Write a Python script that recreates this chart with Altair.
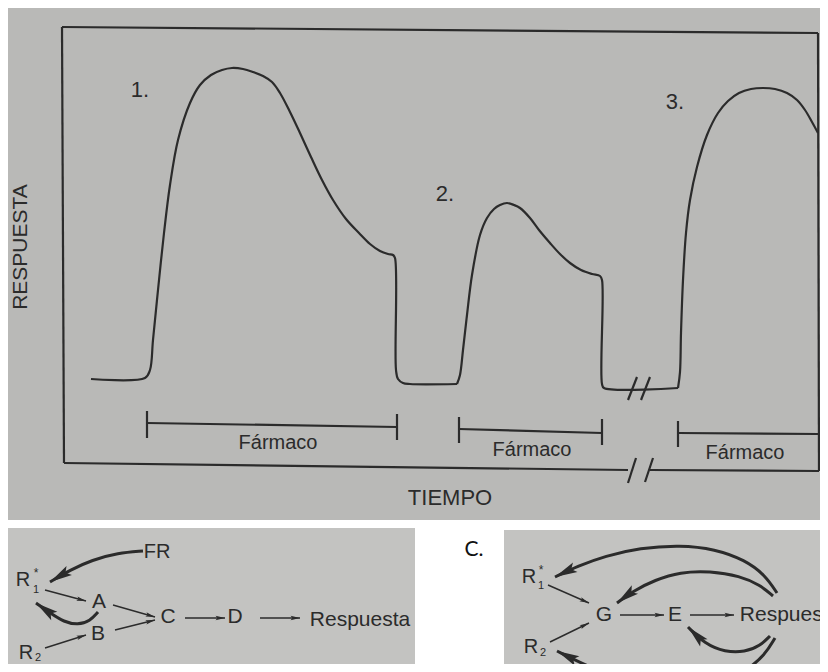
import math
import altair as alt
import pandas as pd

FONT = "Liberation Sans"
INK = "#2b2b2b"

# ---------------- data (page-space: x = time, y = response, y grows downward) -------------
curve1_t = [91, 145, 150, 153, 158, 164, 170, 178, 190, 200, 211, 222, 232, 243, 253, 263, 272, 280,
            290, 300, 311, 322, 333, 346, 359, 370, 380, 388, 393, 395, 396, 398, 403, 410, 457]
curve1_r = [379, 378, 370, 340, 290, 233, 185, 140, 103, 85, 75, 70, 68, 69, 72, 76, 82, 93,
            112, 133, 157, 180, 200, 219, 233, 244, 251, 254, 255, 258, 370, 379, 383, 384, 384]

curve2_t = [457, 460, 463, 467, 472, 480, 487, 494, 500, 507, 514, 520, 530, 539, 550, 560, 570,
            581, 592, 600, 602, 602, 604, 678]
curve2_r = [384, 375, 350, 315, 275, 235, 218, 209, 205, 203, 205, 208, 218, 230, 243, 254, 263,
            270, 274, 276, 280, 384, 388, 388]

curve3_t = [678, 680, 681, 683, 686, 690, 697, 707, 718, 728, 739, 751, 763, 775, 787, 797, 805, 812, 818]
curve3_r = [388, 372, 333, 280, 233, 200, 167, 135, 113, 101, 93, 89, 88, 89, 93, 100, 110, 122, 133]

# frame, break marks and drug bars: (x1, y1, x2, y2)
segments = [
    (62, 27, 818, 33), (62, 27, 64, 463), (818, 33, 819, 471),
    (64, 463, 628, 470), (650, 470, 819, 471),
    (628, 483, 636, 458), (645, 482, 653, 458),
    (628, 400, 637, 377), (641, 400, 650, 377),
    (147, 423, 397, 427), (147, 411, 147, 438), (397, 414, 397, 440),
    (459, 429, 602, 433), (459, 417, 459, 443), (602, 419, 602, 445),
    (678, 433, 818, 434), (678, 421, 678, 447),
]

# straight thin arrows (from -> tip)
thin_arrows = [
    (45, 590, 86, 601), (45, 648, 86, 635), (113, 605, 155, 617), (115, 630, 155, 620),
    (185, 618, 225, 618), (260, 618, 300, 618),
    (548, 585, 589, 603), (550, 642, 589, 623), (620, 615, 664, 615), (690, 615, 734, 615),
]

# curved thick arrows (last point is the tip)
curved_arrows = [
    [(143, 551), (118, 553), (92, 560), (70, 570), (50, 582)],
    [(98, 612), (90, 621), (78, 625), (64, 622), (50, 613), (36, 603)],
    [(777, 593), (765, 575), (745, 560), (715, 549), (680, 545), (640, 548), (605, 556), (578, 566), (555, 577)],
    [(773, 596), (760, 585), (740, 576), (710, 571), (680, 572), (655, 580), (633, 591), (617, 603)],
    [(770, 636), (760, 646), (745, 652), (725, 652), (705, 644), (688, 627)],
    [(775, 638), (765, 655), (745, 672), (715, 685), (670, 690), (620, 680), (585, 665), (557, 651)],
]

labels = ["1.", "2.", "3.", "RESPUESTA", "TIEMPO", "Fármaco", "Fármaco", "Fármaco",
          "FR", "R", "*", "1", "A", "B", "R", "2", "C", "D", "Respuesta",
          "R", "*", "1", "G", "E", "Respuesta", "R", "2"]
label_x = [140, 445, 675, 21, 450, 278, 532, 745,
           157, 23, 36, 36, 99, 98, 26, 38, 168, 235, 360,
           529, 541, 541, 604, 675, 790, 531, 543]
label_y = [90, 194, 102, 247, 498, 443, 450, 453,
           552, 580, 573, 590, 602, 634, 653, 658, 617, 617, 620,
           577, 570, 586, 615, 615, 615, 647, 653]
label_size = [22, 22, 22, 21, 22, 20, 20, 20,
              20, 20, 12, 11, 21, 21, 20, 11, 21, 21, 21,
              20, 12, 11, 21, 21, 21, 20, 11]
label_angle = [0, 0, 0, 270, 0, 0, 0, 0,
               0, 0, 0, 0, 0, 0, 0, 0, 0, 0, 0,
               0, 0, 0, 0, 0, 0, 0, 0]

panels = [(0, 0, 828, 520, "#b9b9b7"), (0, 528, 415, 672, "#c3c3c1"), (504, 530, 828, 672, "#c3c3c1")]

# ---------------- tables --------------------------------------------------------------
X = alt.X("x:Q", scale=alt.Scale(domain=[8, 820]), axis=None)
Y = alt.Y("y:Q", scale=alt.Scale(domain=[8, 664], reverse=True), axis=None)

bg_df = pd.DataFrame(panels, columns=["x", "y", "x2", "y2", "c"])
bg = alt.Chart(bg_df).mark_rect().encode(
    x=X, y=Y, x2="x2:Q", y2="y2:Q", color=alt.Color("c:N", scale=None))

curve_rows = []
for cid, (ts, rs) in enumerate([(curve1_t, curve1_r), (curve2_t, curve2_r), (curve3_t, curve3_r)]):
    for i, (t, r) in enumerate(zip(ts, rs)):
        curve_rows.append({"x": t, "y": r, "cid": cid, "i": i})
curves = alt.Chart(pd.DataFrame(curve_rows)).mark_line(
    interpolate="catmull-rom", color=INK, strokeWidth=2.2, clip=True
).encode(x=X, y=Y, detail="cid:N", order="i:Q")

seg_df = pd.DataFrame(segments, columns=["x", "y", "x2", "y2"])
segs = alt.Chart(seg_df).mark_rule(color=INK, strokeWidth=2.2).encode(x=X, y=Y, x2="x2:Q", y2="y2:Q")

thin_df = pd.DataFrame(thin_arrows, columns=["x", "y", "x2", "y2"])
thin = alt.Chart(thin_df).mark_rule(color=INK, strokeWidth=1.4).encode(x=X, y=Y, x2="x2:Q", y2="y2:Q")

HEAD = "M0,-1L0.42,0.8L0,0.45L-0.42,0.8Z"


def head(fx, fy, tx, ty, size):
    dx, dy = tx - fx, ty - fy
    n = math.hypot(dx, dy)
    ux, uy = dx / n, dy / n
    half = math.sqrt(size) / 2
    ang = math.degrees(math.atan2(dx, -dy)) % 360
    return {"x": tx - ux * half, "y": ty - uy * half, "a": ang, "s": size}


heads = [head(*a, 110) for a in thin_arrows]
crow = []
for k, pts in enumerate(curved_arrows):
    for i, (px, py) in enumerate(pts):
        crow.append({"x": px, "y": py, "k": k, "i": i})
    heads.append(head(pts[-2][0], pts[-2][1], pts[-1][0], pts[-1][1], 620))

curved = alt.Chart(pd.DataFrame(crow)).mark_line(
    interpolate="basis", color=INK, strokeWidth=3, clip=True
).encode(x=X, y=Y, detail="k:N", order="i:Q")

heads_chart = alt.Chart(pd.DataFrame(heads)).mark_point(
    shape=HEAD, filled=True, color=INK, opacity=1, strokeWidth=0
).encode(x=X, y=Y, angle=alt.Angle("a:Q", scale=None), size=alt.Size("s:Q", scale=None))

txt_df = pd.DataFrame({"t": labels, "x": label_x, "y": label_y, "s": label_size, "a": label_angle})
texts = alt.Chart(txt_df).mark_text(font=FONT, color=INK, baseline="middle", align="center").encode(
    x=X, y=Y, text="t:N", size=alt.Size("s:Q", scale=None), angle=alt.Angle("a:Q", scale=None))

c_df = pd.DataFrame({"t": ["C."], "x": [474], "y": [550]})
c_text = alt.Chart(c_df).mark_text(font="Lato", fontSize=21, color="#111111", baseline="middle").encode(
    x=X, y=Y, text="t:N")

chart = alt.layer(bg, curves, segs, thin, curved, heads_chart, texts, c_text).properties(
    width=812, height=656, padding=0, autosize="none", background="white"
).configure_view(strokeWidth=0)

chart.save("out.html", embed_options={"renderer": "svg", "actions": False})
